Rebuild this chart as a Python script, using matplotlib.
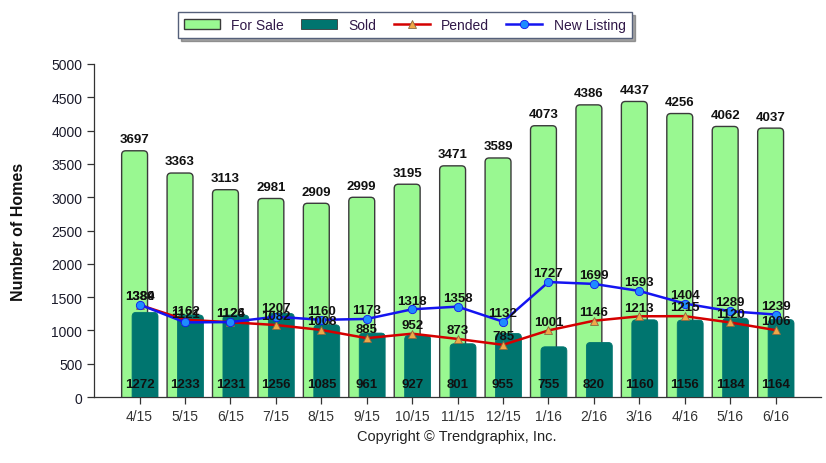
import matplotlib
matplotlib.use('Agg')
import matplotlib.pyplot as plt
from matplotlib.patches import FancyBboxPatch, Patch
import numpy as np

# ── DATA ─────────────────────────────────────────────────────────────────────
months = ['4/15', '5/15', '6/15', '7/15', '8/15', '9/15', '10/15', '11/15',
          '12/15', '1/16', '2/16', '3/16', '4/16', '5/16', '6/16']
for_sale = [3697, 3363, 3113, 2981, 2909, 2999, 3195, 3471, 3589, 4073,
            4386, 4437, 4256, 4062, 4037]
sold = [1272, 1233, 1231, 1256, 1085, 961, 927, 801, 955, 755,
        820, 1160, 1156, 1184, 1164]
pended = [1384, 1162, 1124, 1082, 1008, 885, 952, 873, 785, 1001,
          1146, 1213, 1215, 1120, 1006]
new_listing = [1389, 1121, 1126, 1207, 1160, 1173, 1318, 1358, 1132, 1727,
               1699, 1593, 1404, 1289, 1239]

# ── THEME ────────────────────────────────────────────────────────────────────
GREEN = '#99f891'
TEAL = '#00756f'
RED = '#d40000'
ORANGE = '#f0a848'
BLUE = '#1414f0'
DOT = '#1e8cff'
EDGE = '#3a3a3a'
TXT = '#1a1a2a'

plt.rcParams.update({
    'font.family': ['Liberation Sans', 'DejaVu Sans'],
    'font.size': 9,
})

fig = plt.figure(figsize=(8.26, 4.64), dpi=100)
ax = fig.add_axes([0.114, 0.142, 0.880, 0.718])
ax.set_xlim(-1, 15)
ax.set_ylim(0, 5000)

x = np.arange(len(months))
w = 0.57


def round_bars(bars, fc, ec, lw, z):
    # swap plain rectangles for ones with rounded corners
    # (aspect = data units per pixel, y over x)
    bb = ax.get_window_extent()
    asp = (5000 / bb.height) / (16 / bb.width)
    for r in bars:
        r.set_visible(False)
        p = FancyBboxPatch((r.get_x(), -200), r.get_width(),
                           r.get_height() + 200,
                           boxstyle='round,pad=0,rounding_size=0.09',
                           mutation_aspect=asp, fc=fc, ec=ec, lw=lw,
                           zorder=z, clip_on=True)
        ax.add_patch(p)


b1 = ax.bar(x - 0.11, for_sale, width=w, color=GREEN, edgecolor=EDGE,
            linewidth=0.9, zorder=2)
b2 = ax.bar(x + 0.12, sold, width=w, color=TEAL, edgecolor=TEAL,
            linewidth=0.6, zorder=3)
round_bars(b1, GREEN, EDGE, 1.0, 2)
round_bars(b2, TEAL, TEAL, 0.6, 3)

l1, = ax.plot(x, pended, color=RED, lw=1.8, marker='^', markersize=6,
              markerfacecolor=ORANGE, markeredgecolor='#8a6a40',
              markeredgewidth=0.6, zorder=4)
l2, = ax.plot(x, new_listing, color=BLUE, lw=1.8, marker='o', markersize=6,
              markerfacecolor=DOT, markeredgecolor=BLUE, markeredgewidth=0.6,
              zorder=5)

lbl = dict(ha='center', va='bottom', fontsize=9.5, fontweight='bold',
           color='#111111', zorder=6)
for xi, v in zip(x, for_sale):
    ax.annotate(f'{v}', (xi - 0.11, v), xytext=(0, 4),
                textcoords='offset points', **lbl)
for xi, v in zip(x, pended):
    ax.annotate(f'{v}', (xi, v), xytext=(0, 2),
                textcoords='offset points', **lbl)
for xi, v in zip(x, new_listing):
    ax.annotate(f'{v}', (xi, v), xytext=(0, 2),
                textcoords='offset points', **lbl)
for xi, v in zip(x, sold):
    ax.text(xi, 195, f'{v}', ha='center', va='center', fontsize=9.5,
            fontweight='bold', color='#111111', zorder=6)

ax.set_xticks(x)
ax.set_xticklabels(months, color=TXT, fontsize=10)
ax.set_yticks(np.arange(0, 5001, 500))
ax.tick_params(axis='y', colors='#333333', labelcolor=TXT, labelsize=10,
               length=5, width=0.9)
ax.tick_params(axis='x', colors='#333333', length=5, width=0.9)
ax.set_ylabel('Number of Homes', fontsize=11.5, fontweight='bold',
              color='#111111', labelpad=18)
for s in ['top', 'right']:
    ax.spines[s].set_visible(False)
for s in ['left', 'bottom']:
    ax.spines[s].set_color('#333333')
    ax.spines[s].set_linewidth(0.9)

handles = [Patch(fc=GREEN, ec=EDGE, lw=1.0), Patch(fc=TEAL, ec=EDGE, lw=0.6),
           l1, l2]
leg = fig.legend(handles, ['For Sale', 'Sold', 'Pended', 'New Listing'],
                 loc='center', bbox_to_anchor=(0.49, 0.944), ncol=4,
                 frameon=True, fancybox=False, shadow=True, fontsize=10,
                 handlelength=2.6, columnspacing=1.25, borderpad=0.45,
                 edgecolor='#55607a')
for t in leg.get_texts():
    t.set_color('#301848')

fig.text(0.553, 0.058, 'Copyright \u00a9 Trendgraphix, Inc.', ha='center',
         va='center', fontsize=10.5, color='#222222')

fig.savefig('out.png', dpi=100)
